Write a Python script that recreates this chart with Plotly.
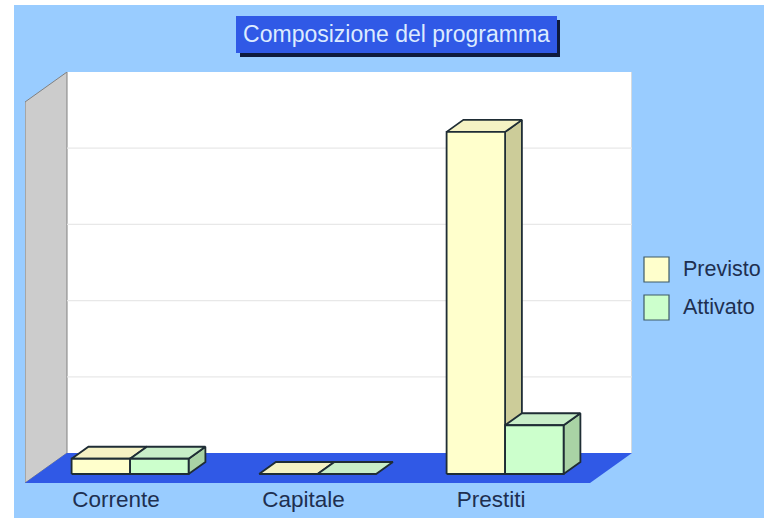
import plotly.graph_objects as go

categories = ["Corrente", "Capitale", "Prestiti"]
previsto = [2.0, 0.0, 44.9]
attivato = [2.0, 0.0, 6.4]
grid_values = [10, 20, 30, 40]
wall_top = 50
title_text = "Composizione del programma"

W, H = 764, 518
L, R, T, B = 25, 632, 72, 483
PX_X = 187.5            # pixels per category
PX_Y = 7.62             # pixels per value unit
X0_PX = 117.5           # pixel position of the first category on the floor's front edge
DEPTH_X = 42 / PX_X
DEPTH_Y = 30 / PX_Y
BAR_W = 58.5 / PX_X
F_FRONT, F_BACK = 0.3, 0.7

BG = "#99CCFF"
BLUE = "#3059E6"
DARK = "#1F2D35"
TEXT = "#1E2F50"

def xp(px):
    return (px - L) / (R - L)

def yp(py):
    return (B - py) / (B - T)

fig = go.Figure()

def poly(xs, ys, fill, line=None, width=1.8):
    fig.add_trace(go.Scatter(
        x=list(xs) + [xs[0]], y=list(ys) + [ys[0]], mode="lines", fill="toself",
        fillcolor=fill, line=dict(color=line or fill, width=width if line else 0),
        hoverinfo="skip", showlegend=False))

xl = (L - X0_PX) / PX_X
xr = xl + (590 - L) / PX_X

# back wall, left wall and floor
poly([xl + DEPTH_X, xr + DEPTH_X, xr + DEPTH_X, xl + DEPTH_X],
     [DEPTH_Y, DEPTH_Y, wall_top + DEPTH_Y, wall_top + DEPTH_Y], "#FFFFFF")
poly([xl, xl + DEPTH_X, xl + DEPTH_X, xl],
     [0, DEPTH_Y, wall_top + DEPTH_Y, wall_top], "#CCCCCC", "#808080", 1)
poly([xl, xr, xr + DEPTH_X, xl + DEPTH_X], [0, 0, DEPTH_Y, DEPTH_Y], BLUE)
fig.add_trace(go.Scatter(x=[xr + DEPTH_X, xr + DEPTH_X], y=[DEPTH_Y, wall_top + DEPTH_Y],
                         mode="lines", line=dict(color="#A8B4C0", width=1),
                         hoverinfo="skip", showlegend=False))

# grid lines on the back wall
for g in grid_values:
    fig.add_trace(go.Scatter(x=[xl + DEPTH_X, xr + DEPTH_X], y=[g + DEPTH_Y, g + DEPTH_Y],
                             mode="lines", line=dict(color="#E8E8E8", width=1.2),
                             hoverinfo="skip", showlegend=False))

def box(cx, left, value, front, top, side):
    x0 = cx + left + F_FRONT * DEPTH_X
    x1 = x0 + BAR_W
    ddx = (F_BACK - F_FRONT) * DEPTH_X
    y0 = F_FRONT * DEPTH_Y
    ddy = (F_BACK - F_FRONT) * DEPTH_Y
    if value > 0:
        poly([x1, x1 + ddx, x1 + ddx, x1],
             [y0, y0 + ddy, y0 + ddy + value, y0 + value], side, DARK)
    poly([x0, x1, x1 + ddx, x0 + ddx],
         [y0 + value, y0 + value, y0 + value + ddy, y0 + value + ddy], top, DARK)
    if value > 0:
        poly([x0, x1, x1, x0], [y0, y0, y0 + value, y0 + value], front, DARK)

for i, (p, a) in enumerate(zip(previsto, attivato)):
    box(i, -BAR_W, p, "#FFFFCC", "#F5F2C4", "#CCCC99")
    box(i, 0, a, "#CCFFCC", "#C8EEC8", "#A9D3A5")

shapes = [
    # page background
    dict(type="rect", xref="paper", yref="paper", layer="below",
         x0=xp(14), x1=xp(W), y0=yp(5), y1=yp(H),
         fillcolor=BG, line_width=0),
    # title box shadow and box
    dict(type="rect", xref="paper", yref="paper", layer="above",
         x0=xp(240), x1=xp(560), y0=yp(20), y1=yp(57),
         fillcolor="#0E1A3C", line_width=0),
    dict(type="rect", xref="paper", yref="paper", layer="above",
         x0=xp(236), x1=xp(557), y0=yp(16), y1=yp(53),
         fillcolor=BLUE, line_width=0),
]

annotations = []
for name, color, top_px in (("Previsto", "#FFFFCC", 257), ("Attivato", "#CCFFCC", 295)):
    shapes.append(dict(type="rect", xref="paper", yref="paper", layer="above",
                       x0=xp(644), x1=xp(669), y0=yp(top_px), y1=yp(top_px + 25),
                       fillcolor=color, line=dict(color="#3F5A66", width=1.2)))
    annotations.append(dict(xref="paper", yref="paper", x=xp(681), y=yp(top_px + 12),
                            xanchor="left", yanchor="middle", text=name, showarrow=False,
                            font=dict(family="Liberation Sans", size=21.5, color=TEXT)))

fig.update_layout(
    width=W, height=H, autosize=False,
    margin=dict(l=L, r=W - R, t=T, b=H - B, pad=0),
    paper_bgcolor="#FFFFFF", plot_bgcolor="rgba(0,0,0,0)",
    showlegend=False,
    shapes=shapes, annotations=annotations,
    title=dict(text=title_text, xref="container", yref="container", x=396.5 / W, y=1 - 34 / H,
               xanchor="center", yanchor="middle", automargin=False,
               font=dict(family="Liberation Sans", size=23, color="#DCEBFF")),
    xaxis=dict(range=[xl, (R - X0_PX) / PX_X], tickvals=[-0.008, 0.992, 1.992], ticktext=categories,
               showgrid=False, zeroline=False, showline=False, ticks="",
               fixedrange=True, automargin=False,
               tickfont=dict(family="Liberation Sans", size=22.5, color=TEXT)),
    yaxis=dict(range=[0, (B - T) / PX_Y], showgrid=False, zeroline=False, showline=False,
               showticklabels=False, ticks="", fixedrange=True, automargin=False),
)

post = (
    "document.body.style.margin='0';"
    "document.documentElement.style.overflow='hidden';"
)
fig.write_html("out.html", post_script=post, config={"displayModeBar": False})
